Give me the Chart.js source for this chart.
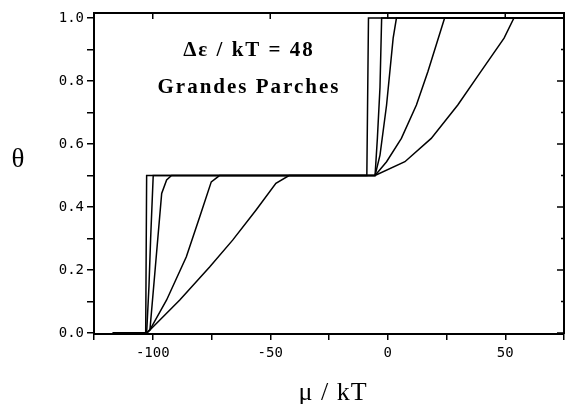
<html>
<head>
<script src="https://cdn.jsdelivr.net/npm/chart.js"></script>
<style>
    body { margin: 0; background: #fff; }
    #wrap { width: 569px; height: 404px; position: relative; }
</style>
</head>
<body>
<div id="wrap"><canvas id="chart"></canvas></div>
<script>
    // tick positions
    const xTicks = [-125, -100, -75, -50, -25, 0, 25, 50, 75];
    const yTicks = [0, 0.1, 0.2, 0.3, 0.4, 0.5, 0.6, 0.7, 0.8, 0.9, 1.0];

    // five isotherms (mu/kT, theta)
    const mu1 = [-117, -103.0, -102.6, -8.9, -8.2, 75];
    const theta1 = [0, 0, 0.5, 0.5, 1, 1];

    const mu2 = [-117, -102.6, -101.6, -100.9, -99.8, -5.4, -4.4, -3.3, -2.6, 75];
    const theta2 = [0, 0, 0.15, 0.3, 0.5, 0.5, 0.62, 0.78, 1, 1];

    const mu3 = [-117, -102.6, -101.2, -99.0, -96.2, -94.1, -92.0, -5.4, -3.3, -0.5, 2.3, 3.7, 75];
    const theta3 = [0, 0, 0.01, 0.2, 0.443, 0.486, 0.5, 0.5, 0.565, 0.724, 0.936, 1, 1];

    const mu4 = [-117, -102.6, -101.2, -94.1, -85.7, -80.0, -75.1, -71.6, -5.4, -0.5, 5.8, 12.2, 17.1, 24.2, 75];
    const theta4 = [0, 0, 0.01, 0.105, 0.242, 0.369, 0.48, 0.5, 0.5, 0.544, 0.618, 0.724, 0.83, 1, 1];

    const mu5 = [-117, -102.6, -101.2, -88.5, -75.8, -66.0, -56.1, -47.6, -42.0, -5.4, 7.3, 18.5, 29.8, 39.6, 49.5, 53.7, 75];
    const theta5 = [0, 0, 0.01, 0.105, 0.21, 0.295, 0.39, 0.475, 0.5, 0.5, 0.544, 0.618, 0.724, 0.83, 0.936, 1, 1];

    const curves = [[mu1, theta1], [mu2, theta2], [mu3, theta3], [mu4, theta4], [mu5, theta5]];

    const isMajorY = v => Math.round(v * 10) % 2 === 0;

    const framePlugin = {
        id: 'frame',
        afterDraw(chart) {
            const ctx = chart.ctx;
            const a = chart.chartArea;
            const x = chart.scales.x, y = chart.scales.y;
            ctx.save();
            ctx.strokeStyle = '#000';
            ctx.lineWidth = 2;
            ctx.beginPath();
            ctx.moveTo(a.left, a.top);
            ctx.lineTo(a.right, a.top);
            ctx.lineTo(a.right, a.bottom);
            ctx.stroke();
            // inward ticks on top and right
            ctx.lineWidth = 1.5;
            ctx.beginPath();
            xTicks.forEach(v => {
                if (v % 50 === 0) {
                    const px = x.getPixelForValue(v);
                    ctx.moveTo(px, a.top);
                    ctx.lineTo(px, a.top + 6);
                }
            });
            yTicks.forEach(v => {
                const py = y.getPixelForValue(v);
                ctx.moveTo(a.right, py);
                ctx.lineTo(a.right - (isMajorY(v) ? 7 : 3), py);
            });
            ctx.stroke();

            ctx.fillStyle = '#000';
            ctx.textAlign = 'center';
            ctx.textBaseline = 'alphabetic';
            ctx.letterSpacing = '2px';
            ctx.font = 'bold 21px "Liberation Serif"';
            ctx.fillText('Δε / kT = 48', 249, 56);
            ctx.fillText('Grandes Parches', 249, 93);
            ctx.letterSpacing = '1px';
            ctx.font = '26px "Liberation Serif"';
            ctx.fillText('μ / kT', 333, 400);
            ctx.letterSpacing = '0px';
            ctx.font = '27px "Liberation Serif"';
            ctx.fillText('θ', 18, 167);
            ctx.restore();
        }
    };

    const tickFont = { family: '"DejaVu Sans Mono"', size: 14 };

    const config = {
        type: 'scatter',
        data: {
            datasets: curves.map(c => ({
                data: c[0].map((m, i) => ({ x: m, y: c[1][i] })),
                showLine: true,
                borderColor: '#000',
                borderWidth: 1.5,
                pointRadius: 0,
                fill: false
            }))
        },
        options: {
            responsive: true,
            maintainAspectRatio: false,
            animation: false,
            layout: { padding: { top: 13, right: 2 } },
            plugins: {
                legend: { display: false },
                tooltip: { enabled: false }
            },
            scales: {
                x: {
                    type: 'linear',
                    min: -125,
                    max: 75,
                    afterBuildTicks: s => { s.ticks = xTicks.map(v => ({ value: v })); },
                    afterFit: s => { s.height = 70; },
                    ticks: {
                        callback: v => (v % 50 === 0 ? String(v) : ''),
                        font: tickFont,
                        color: '#000',
                        padding: 5,
                        maxRotation: 0,
                        autoSkip: false
                    },
                    grid: { drawOnChartArea: false, tickLength: 6, color: '#000', lineWidth: 1.5 },
                    border: { display: true, color: '#000', width: 2 }
                },
                y: {
                    type: 'linear',
                    min: -0.003,
                    max: 1.016,
                    afterBuildTicks: s => { s.ticks = yTicks.map(v => ({ value: v })); },
                    afterFit: s => { s.width = 94; },
                    ticks: {
                        callback: v => (isMajorY(v) ? v.toFixed(1) : ''),
                        font: tickFont,
                        color: '#000',
                        padding: 3,
                        autoSkip: false
                    },
                    grid: { drawOnChartArea: false, tickLength: 7, color: '#000', lineWidth: 1.5 },
                    border: { display: true, color: '#000', width: 2 }
                }
            }
        },
        plugins: [framePlugin]
    };

    new Chart(document.getElementById('chart'), config);
</script>
</body>
</html>
